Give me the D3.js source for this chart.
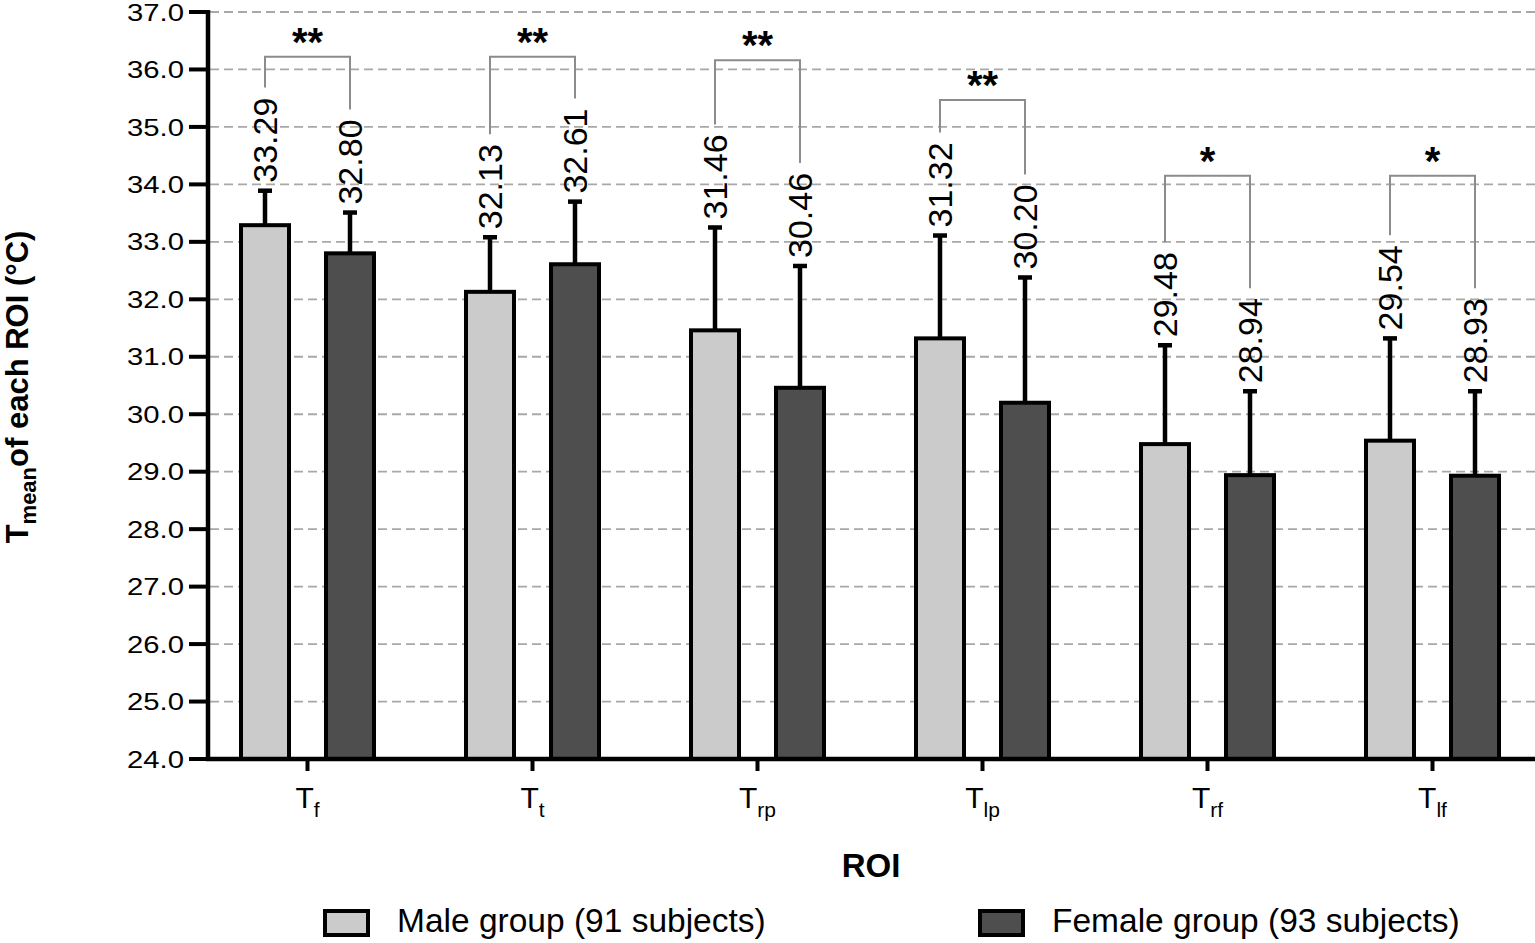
<!DOCTYPE html>
<html lang="en">
<head>
<meta charset="UTF-8" />
<title>Tmean of each ROI by sex</title>
<style>
    body { margin: 0; background: #fff; }
    svg { display: block; font-family: "Liberation Sans", Arial, sans-serif; }
    .grid line { stroke: #a8a8a8; stroke-width: 1.8; stroke-dasharray: 9 5; }
    .bracket { fill: none; stroke: #8c8c8c; stroke-width: 2; }
</style>
</head>
<body>
<svg></svg>
<script src="https://d3js.org/d3.v7.min.js"></script>
<script>
    const categories = ["f", "t", "rp", "lp", "rf", "lf"];
    const groups = ["male", "female"];
    const groupLabels = ["Male group (91 subjects)", "Female group (93 subjects)"];
    const maleMean = [33.29, 32.13, 31.46, 31.32, 29.48, 29.54];
    const femaleMean = [32.80, 32.61, 30.46, 30.20, 28.94, 28.93];
    const maleSD = [0.60, 0.95, 1.79, 1.79, 1.72, 1.78];
    const femaleSD = [0.71, 1.09, 2.12, 2.18, 1.46, 1.47];
    const sigStars = ["**", "**", "**", "**", "*", "*"];
    const bracketLevel = [36.22, 36.22, 36.16, 35.47, 34.15, 34.15];
    const yTicks = d3.range(24, 37.5, 1);

    const width = 1535;
    const height = 943;
    const fills = { male: "#cbcbcb", female: "#4e4e4e" };

    const svg = d3.select("svg")
        .attr("width", width)
        .attr("height", height);

    const axisX = 208;
    const axisRight = 1535;

    const y = d3.scaleLinear().domain([24, 37]).range([759, 12]);
    const x0 = d3.scalePoint().domain(categories).range([307.5, 1432.5]);
    const x1 = d3.scalePoint().domain(groups).range([-85, 85]).padding(0.5);
    const barW = 48;

    const rows = categories.map((c, i) => ({
        cat: c,
        stars: sigStars[i],
        level: bracketLevel[i],
        bars: [
            { g: "male", mean: maleMean[i], sd: maleSD[i] },
            { g: "female", mean: femaleMean[i], sd: femaleSD[i] }
        ]
    }));

    // grid
    svg.append("g").attr("class", "grid")
        .selectAll("line")
        .data(yTicks.filter(t => t > 24))
        .join("line")
        .attr("x1", axisX + 2).attr("x2", axisRight)
        .attr("y1", d => y(d)).attr("y2", d => y(d));

    // bars + error bars
    const cat = svg.append("g").selectAll("g")
        .data(rows)
        .join("g")
        .attr("transform", d => `translate(${x0(d.cat)},0)`);

    const bar = cat.selectAll("g.bar")
        .data(d => d.bars)
        .join("g").attr("class", "bar");

    bar.append("line")
        .attr("x1", d => x1(d.g)).attr("x2", d => x1(d.g))
        .attr("y1", d => y(d.mean)).attr("y2", d => y(d.mean + d.sd))
        .attr("stroke", "#000").attr("stroke-width", 4.5);

    bar.append("line")
        .attr("x1", d => x1(d.g) - 7).attr("x2", d => x1(d.g) + 7)
        .attr("y1", d => y(d.mean + d.sd)).attr("y2", d => y(d.mean + d.sd))
        .attr("stroke", "#000").attr("stroke-width", 4.5);

    bar.append("rect")
        .attr("x", d => x1(d.g) - barW / 2)
        .attr("width", barW)
        .attr("y", d => y(d.mean))
        .attr("height", d => y(24) - y(d.mean))
        .attr("fill", d => fills[d.g])
        .attr("stroke", "#000")
        .attr("stroke-width", 4);

    // value labels, rotated
    bar.append("text")
        .attr("transform", d => `translate(${x1(d.g)},${y(d.mean + d.sd) - 8}) rotate(-90)`)
        .attr("dy", "0.36em")
        .attr("font-size", 34)
        .attr("fill", "#000")
        .text(d => d.mean.toFixed(2));

    // significance brackets
    cat.each(function (d) {
        const g = d3.select(this);
        const tops = [];
        g.selectAll("g.bar text").each(function (b) {
            tops.push(y(b.mean + b.sd) - 8 - this.getComputedTextLength() - 10);
        });
        const yl = y(d.level);
        const xa = x1("male"), xb = x1("female");
        g.append("path")
            .attr("class", "bracket")
            .attr("d", `M${xa},${tops[0]}V${yl}H${xb}V${tops[1]}`);
        g.append("text")
            .attr("x", 0)
            .attr("y", yl - 1)
            .attr("text-anchor", "middle")
            .attr("font-size", 40)
            .attr("font-weight", "bold")
            .text(d.stars);
    });

    // y axis
    svg.append("line")
        .attr("x1", axisX).attr("x2", axisX)
        .attr("y1", y(37) - 2).attr("y2", y(24) + 2)
        .attr("stroke", "#000").attr("stroke-width", 4.5);

    const yt = svg.append("g").selectAll("g")
        .data(yTicks)
        .join("g")
        .attr("transform", d => `translate(0,${y(d)})`);
    yt.append("line")
        .attr("x1", 189).attr("x2", axisX)
        .attr("stroke", "#000").attr("stroke-width", 4);
    yt.append("text")
        .attr("transform", "translate(184,0) scale(1.22,1)")
        .attr("text-anchor", "end")
        .attr("dy", "0.36em")
        .attr("font-size", 24)
        .text(d => d.toFixed(1));

    // x axis
    svg.append("line")
        .attr("x1", axisX - 2).attr("x2", axisRight)
        .attr("y1", y(24)).attr("y2", y(24))
        .attr("stroke", "#000").attr("stroke-width", 4.5);

    const xt = svg.append("g").selectAll("g")
        .data(categories)
        .join("g")
        .attr("transform", d => `translate(${x0(d)},${y(24)})`);
    xt.append("line")
        .attr("y1", 0).attr("y2", 12)
        .attr("stroke", "#000").attr("stroke-width", 4);
    const xl = xt.append("text")
        .attr("y", 49)
        .attr("text-anchor", "middle")
        .attr("font-size", 30);
    xl.append("tspan").text("T");
    xl.append("tspan")
        .attr("font-size", 21)
        .attr("dy", 9)
        .text(d => d);

    // axis titles
    svg.append("text")
        .attr("x", 871).attr("y", 877)
        .attr("text-anchor", "middle")
        .attr("font-size", 33)
        .attr("font-weight", "bold")
        .text("ROI");

    const yTitle = svg.append("text")
        .attr("transform", "translate(28,387) rotate(-90)")
        .attr("text-anchor", "middle")
        .attr("font-size", 31)
        .attr("font-weight", "bold");
    yTitle.append("tspan").text("T");
    yTitle.append("tspan").attr("font-size", 22).attr("dy", 8).text("mean");
    yTitle.append("tspan").attr("dy", -8).text("of each ROI (°C)");

    // legend
    const legendX = [325, 980];
    const lg = svg.append("g").selectAll("g")
        .data(groups)
        .join("g")
        .attr("transform", (d, i) => `translate(${legendX[i]},911)`);
    lg.append("rect")
        .attr("width", 43).attr("height", 24)
        .attr("fill", d => fills[d])
        .attr("stroke", "#000").attr("stroke-width", 4);
    lg.append("text")
        .attr("x", 72).attr("y", 21)
        .attr("font-size", 33.5)
        .text((d, i) => groupLabels[i]);
</script>
</body>
</html>
